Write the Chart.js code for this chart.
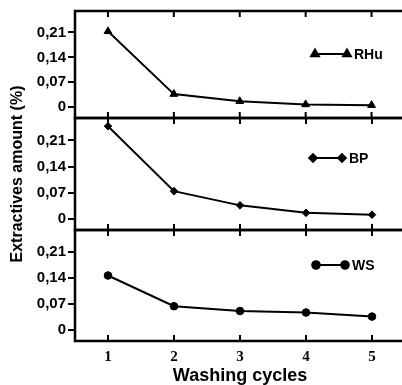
<!DOCTYPE html>
<html>
<head>
<meta charset="utf-8">
<script src="https://cdn.jsdelivr.net/npm/chart.js@4"></script>
<style>
  html, body { margin: 0; padding: 0; background: #fff; overflow: hidden; }
  #wrap { position: relative; width: 402px; height: 385px; overflow: hidden; }
  #wrap canvas { position: absolute; left: 0; top: 0; }
</style>
</head>
<body>
<div id="wrap">
  <canvas id="c1" width="410" height="385"></canvas>
  <canvas id="c2" width="410" height="385"></canvas>
  <canvas id="c3" width="410" height="385"></canvas>
</div>
<script>
// washing cycles on the x axis
const cycles = [1, 2, 3, 4, 5];

// extractives amount (%) per cycle
const rhu = [0.213, 0.037, 0.017, 0.008, 0.006];
const bp = [0.248, 0.074, 0.036, 0.016, 0.011];
const ws = [0.147, 0.064, 0.051, 0.047, 0.036];

const yTickValues = [0, 0.07, 0.14, 0.21];
const yTickLabels = ['0', '0,07', '0,14', '0,21'];

const SANS = '"Liberation Sans", Arial, sans-serif';
const SERIF = '"Liberation Serif", "Times New Roman", serif';

const panels = [
  { id: 'c1', name: 'RHu', values: rhu, style: 'triangle', radius: 4.5, top: 8, bottom: 118,
    key: { x1: 315, x2: 347, dy: 43, tx: 354 } },
  { id: 'c2', name: 'BP', values: bp, style: 'rectRot', radius: 3.8, top: 118, bottom: 230,
    key: { x1: 313, x2: 342, dy: 40, tx: 349 } },
  { id: 'c3', name: 'WS', values: ws, style: 'circle', radius: 3.8, top: 230, bottom: 341,
    key: { x1: 316, x2: 345, dy: 35, tx: 352 } },
];

// frame around each panel plus inward ticks on top and bottom
const framePlugin = {
  id: 'frame',
  afterDatasetsDraw(chart) {
    const { ctx, chartArea: a, scales } = chart;
    ctx.save();
    ctx.strokeStyle = '#000';
    ctx.lineWidth = 2.5;
    ctx.strokeRect(a.left, a.top, a.right - a.left, a.bottom - a.top);
    ctx.lineWidth = 2;
    cycles.forEach((c) => {
      const px = scales.x.getPixelForValue(c);
      ctx.beginPath();
      ctx.moveTo(px, a.top);
      ctx.lineTo(px, a.top + 6);
      ctx.moveTo(px, a.bottom);
      ctx.lineTo(px, a.bottom - 6);
      ctx.stroke();
    });
    ctx.restore();
  },
};

// small key inside each panel: line with two markers and the series name
const keyPlugin = {
  id: 'key',
  afterDatasetsDraw(chart, args, opts) {
    const { ctx, chartArea: a } = chart;
    const y = a.top + opts.dy;
    ctx.save();
    ctx.strokeStyle = '#000';
    ctx.fillStyle = '#000';
    ctx.lineWidth = 2;
    ctx.beginPath();
    ctx.moveTo(opts.x1, y);
    ctx.lineTo(opts.x2, y);
    ctx.stroke();
    const pt = { pointStyle: opts.style, radius: opts.radius, rotation: 0, borderWidth: 1 };
    Chart.helpers.drawPoint(ctx, pt, opts.x1, y);
    Chart.helpers.drawPoint(ctx, pt, opts.x2, y);
    ctx.font = 'bold 14px ' + SANS;
    ctx.textBaseline = 'middle';
    ctx.textAlign = 'left';
    ctx.fillText(opts.label, opts.tx, y + 1);
    ctx.restore();
  },
};

const makeChart = (p, idx) => {
  const isLast = idx === panels.length - 1;
  return new Chart(document.getElementById(p.id), {
    type: 'line',
    data: {
      datasets: [{
        label: p.name,
        data: cycles.map((c, i) => ({ x: c, y: p.values[i] })),
        borderColor: '#000',
        backgroundColor: '#000',
        borderWidth: 2,
        pointStyle: p.style,
        pointRadius: p.radius,
        pointBorderWidth: 1,
        tension: 0,
      }],
    },
    plugins: [framePlugin, keyPlugin],
    options: {
      responsive: false,
      animation: false,
      events: [],
      layout: { padding: { top: p.top, bottom: isLast ? 0 : 385 - p.bottom, left: 0, right: 3 } },
      plugins: {
        legend: { display: false },
        tooltip: { enabled: false },
        key: { ...p.key, label: p.name, style: p.style, radius: p.radius },
      },
      scales: {
        x: {
          type: 'linear',
          min: 0.5,
          max: 5.5,
          display: isLast,
          afterBuildTicks: (s) => { s.ticks = cycles.map((v) => ({ value: v })); },
          afterFit: (s) => { if (isLast) s.height = 44; },
          grid: { display: false, drawTicks: false },
          border: { display: false },
          ticks: {
            color: '#000',
            padding: 7,
            font: { family: SERIF, size: 15, weight: 'bold' },
            callback: (v) => String(v),
          },
          title: {
            display: isLast,
            text: 'Washing cycles',
            color: '#000',
            padding: 0,
            font: { family: SANS, size: 18, weight: 'bold', lineHeight: 1 },
          },
        },
        y: {
          type: 'linear',
          min: -0.03,
          max: 0.27,
          afterBuildTicks: (s) => { s.ticks = yTickValues.map((v) => ({ value: v })); },
          afterFit: (s) => { s.width = 75; },
          grid: { drawOnChartArea: false, drawTicks: true, tickLength: 7, color: '#000', lineWidth: 2 },
          border: { display: false },
          ticks: {
            color: '#000',
            padding: 2,
            font: { family: SANS, size: 15, weight: 'bold' },
            callback: (v) => yTickLabels[yTickValues.indexOf(v)],
          },
          title: {
            display: idx === 1,
            text: 'Extractives amount (%)',
            color: '#000',
            padding: { top: 10, bottom: 0 },
            font: { family: SANS, size: 16, weight: 'bold', lineHeight: 1 },
          },
        },
      },
    },
  });
};

panels.forEach(makeChart);
</script>
</body>
</html>
